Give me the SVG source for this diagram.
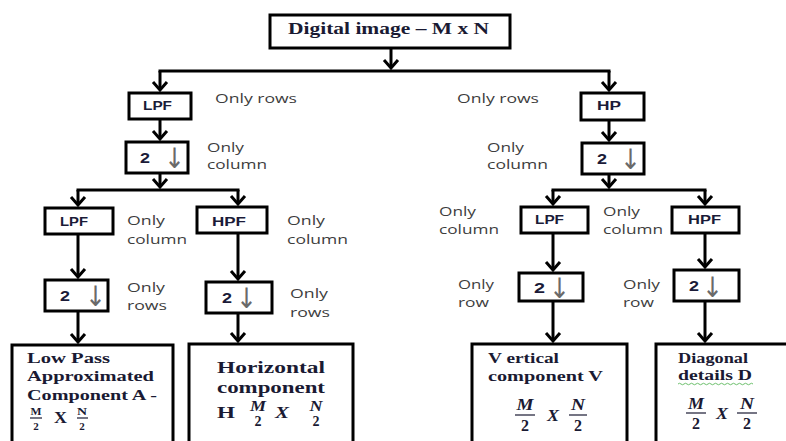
<svg xmlns="http://www.w3.org/2000/svg" width="786" height="441" viewBox="0 0 786 441">
  <defs>
    <marker id="head" markerUnits="userSpaceOnUse" orient="auto" refX="0" refY="0" markerWidth="20" markerHeight="20" overflow="visible">
      <path d="M-8,-7 L0,0 L-8,7" fill="none" stroke="#000" stroke-width="3" stroke-linejoin="miter"/>
    </marker>
    <style>
      .box { fill: #fff; stroke: #000; stroke-width: 3; }
      .open { fill: #fff; stroke: #000; stroke-width: 3; }
      .ln { fill: none; stroke: #000; stroke-width: 3; stroke-linecap: square; }
      .ar { fill: none; stroke: #000; stroke-width: 3; marker-end: url(#head); }
      .note { font-family: "Open Sans", "Liberation Sans", sans-serif; font-size: 13px; fill: #3d3d3d; }
      .lbl { font-family: "Liberation Sans", Arial, sans-serif; font-weight: bold; font-size: 12px; fill: #1b1b38; }
      .two { font-family: "Liberation Sans", Arial, sans-serif; font-weight: bold; font-size: 15px; fill: #1b1b38; }
      .dn { font-family: "DejaVu Sans", sans-serif; font-size: 28px; fill: #6a6a6a; }
      .sb { font-family: "Liberation Serif", "Times New Roman", serif; font-weight: bold; fill: #1a1a33; }
      .it { font-style: italic; }
      .bar { stroke: #1a1a33; stroke-width: 1.2; }
    </style>
  </defs>

  <rect width="786" height="441" fill="#fff"/>

  <!-- connectors -->
  <g id="connectors">
    <path class="ar" d="M391,48 V68"/>
    <path class="ln" d="M160,71 H609"/>
    <path class="ar" d="M160,71 V90"/>
    <path class="ar" d="M609,71 V90"/>
    <path class="ar" d="M160,119 V139"/>
    <path class="ar" d="M609,120 V140"/>
    <path class="ar" d="M160,173 V187"/>
    <path class="ar" d="M609,174 V187"/>
    <path class="ln" d="M78,190 H238"/>
    <path class="ln" d="M553,190 H705"/>
    <path class="ar" d="M78,190 V205"/>
    <path class="ar" d="M238,190 V204"/>
    <path class="ar" d="M553,190 V204"/>
    <path class="ar" d="M705,190 V204"/>
    <path class="ar" d="M78,234 V277"/>
    <path class="ar" d="M238,233 V279"/>
    <path class="ar" d="M553,233 V270"/>
    <path class="ar" d="M705,233 V267"/>
    <path class="ar" d="M78,311 V342"/>
    <path class="ar" d="M238,313 V341"/>
    <path class="ar" d="M553,301 V341"/>
    <path class="ar" d="M705,301 V341"/>
  </g>

  <!-- source image -->
  <g id="image">
    <rect class="box" x="270" y="15" width="240" height="33"/>
    <text class="sb" x="288" y="34" font-size="16" textLength="201" lengthAdjust="spacingAndGlyphs">Digital image – M x N</text>
  </g>

  <!-- first stage: rows -->
  <g id="lpf-rows">
    <rect class="box" x="129" y="93" width="62" height="26"/>
    <text class="lbl" x="143" y="110" textLength="29" lengthAdjust="spacingAndGlyphs">LPF</text>
    <text class="note" x="215" y="103" textLength="82" lengthAdjust="spacingAndGlyphs">Only rows</text>
  </g>
  <g id="hp-rows">
    <rect class="box" x="581" y="93" width="63" height="27"/>
    <text class="lbl" x="597" y="110" textLength="24" lengthAdjust="spacingAndGlyphs">HP</text>
    <text class="note" x="457" y="103" textLength="82" lengthAdjust="spacingAndGlyphs">Only rows</text>
  </g>
  <g id="down-lpf">
    <rect class="box" x="126" y="142" width="62" height="31"/>
    <text class="two" x="140" y="163" textLength="10" lengthAdjust="spacingAndGlyphs">2</text>
    <text class="dn" x="164" y="168" textLength="21" lengthAdjust="spacingAndGlyphs">↓</text>
    <text class="note" x="207" y="152" textLength="37" lengthAdjust="spacingAndGlyphs">Only</text>
    <text class="note" x="207" y="169" textLength="60" lengthAdjust="spacingAndGlyphs">column</text>
  </g>
  <g id="down-hp">
    <rect class="box" x="582" y="143" width="62" height="31"/>
    <text class="two" x="597" y="164" textLength="10" lengthAdjust="spacingAndGlyphs">2</text>
    <text class="dn" x="620" y="169" textLength="21" lengthAdjust="spacingAndGlyphs">↓</text>
    <text class="note" x="487" y="152" textLength="37" lengthAdjust="spacingAndGlyphs">Only</text>
    <text class="note" x="487" y="169" textLength="61" lengthAdjust="spacingAndGlyphs">column</text>
  </g>

  <!-- second stage: columns -->
  <g id="ll-filter">
    <rect class="box" x="45" y="208" width="68" height="26"/>
    <text class="lbl" x="60" y="226" textLength="28" lengthAdjust="spacingAndGlyphs">LPF</text>
    <text class="note" x="127" y="225" textLength="38" lengthAdjust="spacingAndGlyphs">Only</text>
    <text class="note" x="127" y="244" textLength="60" lengthAdjust="spacingAndGlyphs">column</text>
  </g>
  <g id="lh-filter">
    <rect class="box" x="197" y="207" width="70" height="26"/>
    <text class="lbl" x="212" y="226" textLength="34" lengthAdjust="spacingAndGlyphs">HPF</text>
    <text class="note" x="287" y="225" textLength="38" lengthAdjust="spacingAndGlyphs">Only</text>
    <text class="note" x="287" y="244" textLength="61" lengthAdjust="spacingAndGlyphs">column</text>
  </g>
  <g id="hl-filter">
    <rect class="box" x="521" y="207" width="67" height="26"/>
    <text class="lbl" x="535" y="224" textLength="29" lengthAdjust="spacingAndGlyphs">LPF</text>
    <text class="note" x="439" y="216" textLength="37" lengthAdjust="spacingAndGlyphs">Only</text>
    <text class="note" x="439" y="234" textLength="60" lengthAdjust="spacingAndGlyphs">column</text>
  </g>
  <g id="hh-filter">
    <rect class="box" x="672" y="207" width="67" height="26"/>
    <text class="lbl" x="688" y="224" textLength="33" lengthAdjust="spacingAndGlyphs">HPF</text>
    <text class="note" x="603" y="216" textLength="37" lengthAdjust="spacingAndGlyphs">Only</text>
    <text class="note" x="603" y="234" textLength="60" lengthAdjust="spacingAndGlyphs">column</text>
  </g>

  <!-- second stage: downsampling -->
  <g id="ll-down">
    <rect class="box" x="45" y="280" width="63" height="31"/>
    <text class="two" x="60" y="301" textLength="10" lengthAdjust="spacingAndGlyphs">2</text>
    <text class="dn" x="85" y="306" textLength="21" lengthAdjust="spacingAndGlyphs">↓</text>
    <text class="note" x="127" y="292" textLength="38" lengthAdjust="spacingAndGlyphs">Only</text>
    <text class="note" x="127" y="310" textLength="40" lengthAdjust="spacingAndGlyphs">rows</text>
  </g>
  <g id="lh-down">
    <rect class="box" x="206" y="282" width="66" height="31"/>
    <text class="two" x="222" y="303" textLength="10" lengthAdjust="spacingAndGlyphs">2</text>
    <text class="dn" x="236" y="308" textLength="21" lengthAdjust="spacingAndGlyphs">↓</text>
    <text class="note" x="290" y="298" textLength="38" lengthAdjust="spacingAndGlyphs">Only</text>
    <text class="note" x="290" y="317" textLength="40" lengthAdjust="spacingAndGlyphs">rows</text>
  </g>
  <g id="hl-down">
    <rect class="box" x="519" y="273" width="64" height="28"/>
    <text class="two" x="534" y="293" textLength="11" lengthAdjust="spacingAndGlyphs">2</text>
    <text class="dn" x="549" y="298" textLength="21" lengthAdjust="spacingAndGlyphs">↓</text>
    <text class="note" x="458" y="289" textLength="36" lengthAdjust="spacingAndGlyphs">Only</text>
    <text class="note" x="458" y="307" textLength="31" lengthAdjust="spacingAndGlyphs">row</text>
  </g>
  <g id="hh-down">
    <rect class="box" x="674" y="270" width="65" height="31"/>
    <text class="two" x="689" y="291" textLength="10" lengthAdjust="spacingAndGlyphs">2</text>
    <text class="dn" x="702" y="297" textLength="21" lengthAdjust="spacingAndGlyphs">↓</text>
    <text class="note" x="623" y="289" textLength="37" lengthAdjust="spacingAndGlyphs">Only</text>
    <text class="note" x="623" y="307" textLength="31" lengthAdjust="spacingAndGlyphs">row</text>
  </g>

  <!-- sub-bands -->
  <g id="approx-A">
    <path class="open" d="M12,450 V345 H173 V450"/>
    <text class="sb" x="27" y="363" font-size="15" textLength="83" lengthAdjust="spacingAndGlyphs">Low Pass</text>
    <text class="sb" x="27" y="381" font-size="15" textLength="127" lengthAdjust="spacingAndGlyphs">Approximated</text>
    <text class="sb" x="27" y="400" font-size="15" textLength="130" lengthAdjust="spacingAndGlyphs">Component A -</text>
    <text class="sb" x="36" y="415" font-size="11" text-anchor="middle" textLength="11" lengthAdjust="spacingAndGlyphs">M</text>
    <line class="bar" x1="30" y1="418" x2="42" y2="418"/>
    <text class="sb" x="36" y="430" font-size="11" text-anchor="middle">2</text>
    <text class="sb" x="54" y="423" font-size="16" textLength="13" lengthAdjust="spacingAndGlyphs">X</text>
    <text class="sb" x="82" y="415" font-size="11" text-anchor="middle" textLength="10" lengthAdjust="spacingAndGlyphs">N</text>
    <line class="bar" x1="77" y1="418" x2="88" y2="418"/>
    <text class="sb" x="82" y="430" font-size="11" text-anchor="middle">2</text>
  </g>
  <g id="horizontal-H">
    <path class="open" d="M189,450 V344 H353 V450"/>
    <text class="sb" x="217" y="373" font-size="16" textLength="108" lengthAdjust="spacingAndGlyphs">Horizontal</text>
    <text class="sb" x="217" y="393" font-size="16" textLength="108" lengthAdjust="spacingAndGlyphs">component</text>
    <text class="sb" x="217" y="418" font-size="17" textLength="18" lengthAdjust="spacingAndGlyphs">H</text>
    <text class="sb it" x="258" y="411" font-size="15" text-anchor="middle" textLength="16" lengthAdjust="spacingAndGlyphs">M</text>
    <text class="sb" x="258" y="426" font-size="14" text-anchor="middle">2</text>
    <text class="sb it" x="275" y="418" font-size="17" textLength="14" lengthAdjust="spacingAndGlyphs">X</text>
    <text class="sb it" x="316" y="411" font-size="15" text-anchor="middle" textLength="13" lengthAdjust="spacingAndGlyphs">N</text>
    <text class="sb" x="316" y="426" font-size="14" text-anchor="middle">2</text>
  </g>
  <g id="vertical-V">
    <path class="open" d="M472,450 V344 H627 V450"/>
    <text class="sb" x="488" y="363" font-size="15" textLength="71" lengthAdjust="spacingAndGlyphs">V ertical</text>
    <text class="sb" x="488" y="381" font-size="15" textLength="115" lengthAdjust="spacingAndGlyphs">component V</text>
    <text class="sb it" x="525" y="410" font-size="16" text-anchor="middle" textLength="17" lengthAdjust="spacingAndGlyphs">M</text>
    <line class="bar" x1="515" y1="415" x2="535" y2="415"/>
    <text class="sb" x="525" y="431" font-size="16" text-anchor="middle">2</text>
    <text class="sb it" x="547" y="421" font-size="16" textLength="12" lengthAdjust="spacingAndGlyphs">X</text>
    <text class="sb it" x="578" y="410" font-size="16" text-anchor="middle" textLength="14" lengthAdjust="spacingAndGlyphs">N</text>
    <line class="bar" x1="569" y1="415" x2="587" y2="415"/>
    <text class="sb" x="578" y="431" font-size="16" text-anchor="middle">2</text>
  </g>
  <g id="diagonal-D">
    <path class="open" d="M656,450 V344 H790"/>
    <text class="sb" x="678" y="363" font-size="15" textLength="70" lengthAdjust="spacingAndGlyphs">Diagonal</text>
    <text class="sb" x="678" y="380" font-size="15" textLength="74" lengthAdjust="spacingAndGlyphs">details  D</text>
    <path d="M678,384 q1.5,-1.5 3,0 t3,0 t3,0 t3,0 t3,0 t3,0 t3,0 t3,0 t3,0 t3,0 t3,0 t3,0 t3,0 t3,0 t3,0 t3,0 t3,0 t3,0 t3,0 t3,0 t3,0 t3,0 t3,0 t3,0 t3,0" fill="none" stroke="#6cbf6c" stroke-width="1"/>
    <text class="sb it" x="696" y="409" font-size="16" text-anchor="middle" textLength="16" lengthAdjust="spacingAndGlyphs">M</text>
    <line class="bar" x1="686" y1="413" x2="706" y2="413"/>
    <text class="sb" x="696" y="429" font-size="16" text-anchor="middle">2</text>
    <text class="sb it" x="716" y="419" font-size="16" textLength="12" lengthAdjust="spacingAndGlyphs">X</text>
    <text class="sb it" x="747" y="409" font-size="16" text-anchor="middle" textLength="14" lengthAdjust="spacingAndGlyphs">N</text>
    <line class="bar" x1="737" y1="413" x2="757" y2="413"/>
    <text class="sb" x="747" y="429" font-size="16" text-anchor="middle">2</text>
  </g>
</svg>
